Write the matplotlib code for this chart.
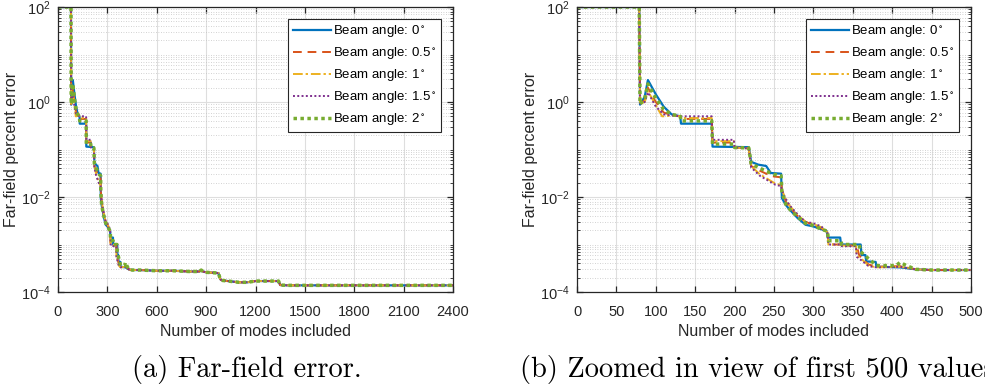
import matplotlib
matplotlib.use("Agg")
import matplotlib.pyplot as plt
from matplotlib.ticker import LogLocator, LogFormatterSciNotation, NullFormatter, MultipleLocator

plt.rcParams["font.family"] = ["Liberation Sans", "DejaVu Sans"]
plt.rcParams["mathtext.fontset"] = "custom"
plt.rcParams["mathtext.rm"] = "Liberation Sans"
plt.rcParams["mathtext.it"] = "Liberation Sans:italic"
plt.rcParams["mathtext.bf"] = "Liberation Sans:bold"
plt.rcParams["mathtext.default"] = "regular"

# ---- data: modes included vs far-field % error ----
x_a0 = [0, 79, 80, 86, 90, 100, 110, 120, 131, 132, 171, 172, 218, 221, 230, 240, 246,
        259, 260, 265, 270, 280, 290, 300, 310, 317, 318, 334, 335, 360, 361, 366, 367,
        379, 380, 410, 430]
y_a0 = [100, 100, 0.88, 1.3, 2.9, 1.45, 0.8, 0.55, 0.5, 0.35, 0.35, 0.115, 0.112, 0.055,
        0.048, 0.045, 0.032, 0.031, 0.0095, 0.0068, 0.0054, 0.0036, 0.0026, 0.0024, 0.0021,
        0.0019, 0.0014, 0.0014, 0.001, 0.001, 0.0006, 0.0006, 0.00044, 0.00043, 0.00034,
        0.00033, 0.0003]

x_a05 = [0, 79, 80, 86, 90, 100, 110, 120, 131, 132, 171, 172, 199, 200, 218, 221, 230,
         240, 250, 259, 260, 265, 270, 280, 290, 300, 310, 318, 319, 335, 336, 355, 358,
         362, 370, 380, 410, 430]
y_a05 = [100, 100, 0.9, 1.1, 2.0, 1.0, 0.6, 0.53, 0.5, 0.44, 0.44, 0.14, 0.14, 0.11, 0.106,
         0.045, 0.037, 0.031, 0.027, 0.026, 0.014, 0.008, 0.006, 0.004, 0.003, 0.0026,
         0.0022, 0.0018, 0.001, 0.001, 0.00095, 0.00095, 0.0006, 0.0005, 0.00038, 0.00034,
         0.00035, 0.0003]

x_a1 = [0, 79, 80, 86, 90, 100, 108, 112, 120, 131, 132, 171, 172, 199, 200, 218, 221, 232,
        252, 259, 260, 265, 270, 280, 290, 300, 310, 318, 319, 335, 336, 354, 355, 362, 370,
        380, 410, 430]
y_a1 = [100, 100, 0.92, 1.0, 1.7, 0.85, 0.5, 0.5, 0.52, 0.5, 0.46, 0.46, 0.15, 0.15, 0.11,
        0.105, 0.045, 0.03, 0.019, 0.018, 0.014, 0.009, 0.0065, 0.0042, 0.003, 0.0027,
        0.0023, 0.0018, 0.001, 0.001, 0.00095, 0.00095, 0.00058, 0.00048, 0.00036, 0.00033,
        0.00034, 0.0003]

x_a15 = [0, 79, 80, 86, 90, 100, 110, 120, 131, 132, 171, 172, 199, 200, 218, 221, 232,
         252, 259, 260, 265, 270, 280, 290, 300, 310, 318, 319, 335, 336, 354, 355, 362,
         370, 380, 410, 430]
y_a15 = [100, 100, 0.93, 1.0, 1.6, 0.8, 0.55, 0.52, 0.5, 0.5, 0.5, 0.16, 0.16, 0.11, 0.105,
         0.042, 0.028, 0.018, 0.017, 0.014, 0.009, 0.0066, 0.0043, 0.003, 0.0028, 0.0024,
         0.0018, 0.001, 0.001, 0.00092, 0.00092, 0.00055, 0.00045, 0.00035, 0.00033,
         0.00034, 0.0003]

x_a2 = [0, 79, 80, 86, 90, 100, 110, 120, 131, 132, 171, 172, 199, 200, 218, 221, 230, 240,
        250, 259, 260, 265, 270, 280, 290, 300, 310, 318, 319, 335, 336, 358, 360, 365, 370,
        380, 405, 410, 418, 430]
y_a2 = [100, 100, 0.9, 1.2, 2.4, 1.2, 0.7, 0.55, 0.5, 0.4, 0.4, 0.13, 0.13, 0.11, 0.108,
        0.05, 0.042, 0.035, 0.03, 0.028, 0.013, 0.007, 0.0055, 0.0038, 0.0028, 0.0025,
        0.0021, 0.0019, 0.0012, 0.0012, 0.001, 0.001, 0.0007, 0.0006, 0.0005, 0.00036,
        0.00036, 0.00042, 0.00036, 0.0003]

# all angles converge after ~430 modes
x_tail = [450, 500, 600, 700, 800, 860, 870, 880, 900, 975, 985, 990, 1000, 1100, 1150,
          1200, 1340, 1350, 1400, 2400]
y_tail = [0.00029, 0.00029, 0.00028, 0.00028, 0.00027, 0.00027, 0.00029, 0.00027, 0.00026,
          0.00025, 0.00019, 0.00018, 0.000175, 0.00016, 0.00016, 0.00017, 0.00017, 0.00014,
          0.000138, 0.000138]

labels = ["Beam angle: 0$^\\circ$", "Beam angle: 0.5$^\\circ$", "Beam angle: 1$^\\circ$",
          "Beam angle: 1.5$^\\circ$", "Beam angle: 2$^\\circ$"]
xs = [x_a0, x_a05, x_a1, x_a15, x_a2]
ys = [y_a0, y_a05, y_a1, y_a15, y_a2]

colors = ["#0072BD", "#D95319", "#EDB120", "#7E2F8E", "#77AC30"]
styles = [dict(ls="-", lw=1.6),
          dict(ls=(0, (4.5, 3)), lw=1.4),
          dict(ls=(0, (5, 1.5, 1.2, 1.5)), lw=1.4),
          dict(ls=(0, (1, 1.2)), lw=1.4),
          dict(ls=(0, (1, 1)), lw=2.5)]

axcol = "#262626"


def draw(ax, xmax, xstep):
    for xv, yv, lab, c, st in zip(xs, ys, labels, colors, styles):
        ax.plot(xv + x_tail, yv + y_tail, color=c, label=lab, **st)
    ax.set_yscale("log")
    ax.set_xlim(0, xmax)
    ax.set_ylim(1e-4, 1e2)
    ax.xaxis.set_major_locator(MultipleLocator(xstep))
    ax.set_yticks([1e-4, 1e-2, 1e0, 1e2])
    ax.yaxis.set_major_formatter(LogFormatterSciNotation())
    ax.yaxis.set_minor_locator(LogLocator(base=10, subs=tuple(range(1, 10)), numticks=40))
    ax.yaxis.set_minor_formatter(NullFormatter())
    ax.grid(True, which="major", color="#dedede", lw=0.8, ls="-")
    ax.grid(True, which="minor", axis="y", color="#c4c4c4", lw=0.6, ls=(0, (1, 2)))
    ax.set_axisbelow(True)
    ax.tick_params(which="both", direction="in", top=True, right=True, colors=axcol,
                   labelcolor="#262626", labelsize=10.5)
    ax.tick_params(which="major", length=4.5, width=0.9)
    ax.tick_params(which="minor", length=2.5, width=0.6)
    ax.tick_params(axis="x", which="major", pad=9)
    ax.tick_params(axis="y", which="major", pad=5)
    for sp in ax.spines.values():
        sp.set_color(axcol)
        sp.set_linewidth(0.9)
    ax.set_xlabel("Number of modes included", fontsize=11.5, color="#262626", labelpad=4)
    ax.set_ylabel("Far-field percent error", fontsize=11.5, color="#262626", labelpad=2)
    leg = ax.legend(loc="upper right", fontsize=9.5, handlelength=2.9, handletextpad=0.2,
                    labelspacing=0.45, borderpad=0.35, borderaxespad=0.9, fancybox=False,
                    framealpha=1, edgecolor=axcol)
    leg.get_frame().set_linewidth(0.8)


fig = plt.figure(figsize=(9.85, 3.91), dpi=100)
ax1 = fig.add_axes([58 / 985, 1 - 292 / 391, 395 / 985, 285 / 391])
ax2 = fig.add_axes([577 / 985, 1 - 292 / 391, 394 / 985, 285 / 391])
draw(ax1, 2400, 300)
draw(ax2, 500, 50)

# sub-figure captions (the second one runs past the right edge, as in the source)
fig.text(247 / 985, 1 - 369 / 391, "(a) Far-field error.", family="cmr10", fontsize=20.5,
         ha="center", va="center")
fig.text(520 / 985, 1 - 369 / 391, "(b) Zoomed in view of first 500 values.", family="cmr10",
         fontsize=20.5, ha="left", va="center")

fig.savefig("out.png", dpi=100)
